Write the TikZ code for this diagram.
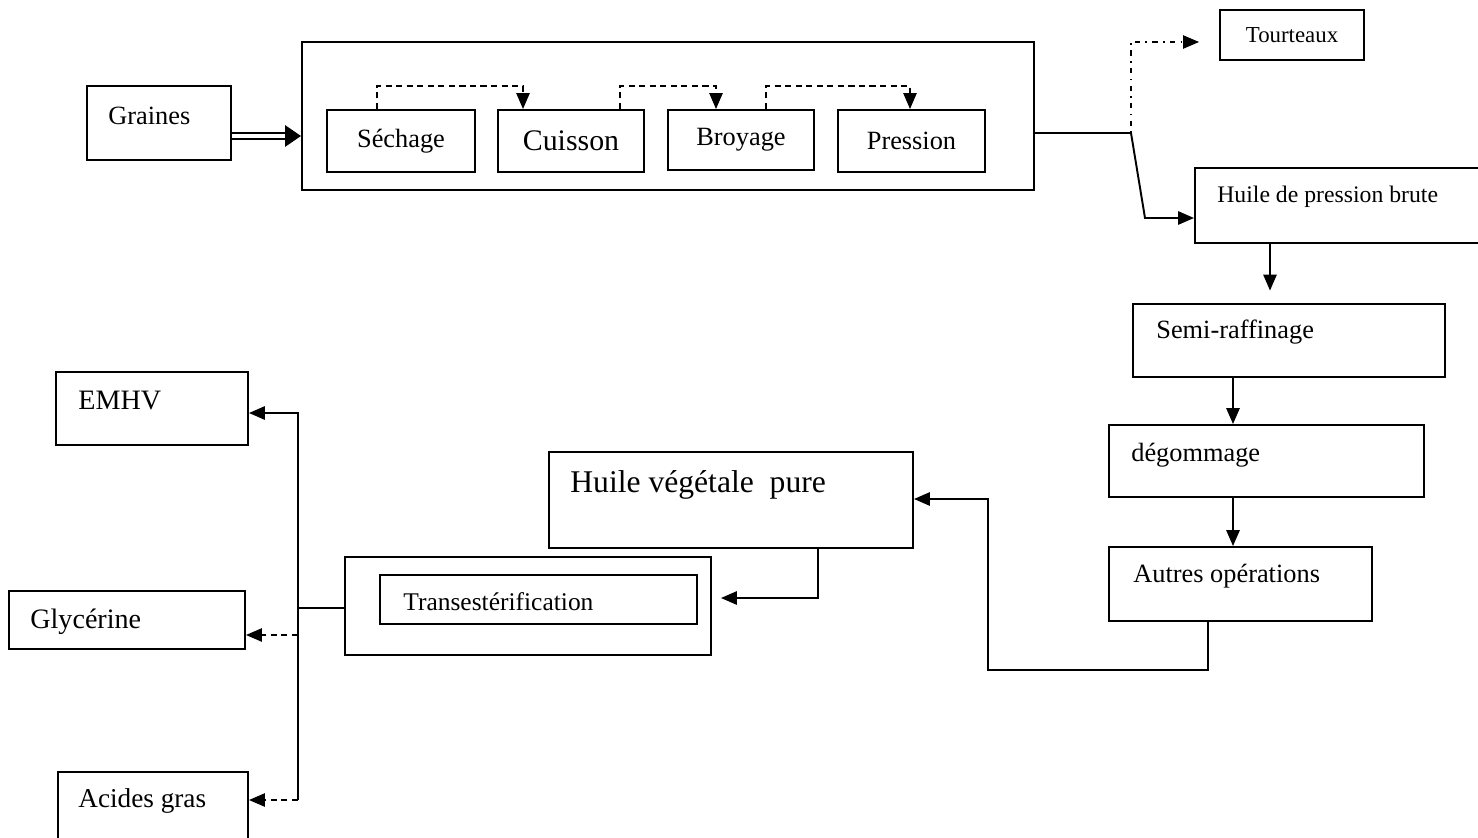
\documentclass[tikz,border=0pt]{standalone}
\usepackage{fontspec}
\setmainfont{Liberation Serif}
\usetikzlibrary{arrows.meta}
\newcommand\fs[1]{\fontsize{#1}{#1}\selectfont}
\begin{document}
\begin{tikzpicture}[x=0.02cm,y=-0.02cm,
  box/.style={draw,line width=1.1pt,inner sep=0pt},
  txt/.style={inner sep=0pt,anchor=west},
  tip/.style={-{Triangle[length=9pt,width=7.5pt]}},
  arr/.style={line width=1.1pt,tip},
  thin/.style={line width=0.8pt},
  dsh/.style={line width=0.9pt,dash pattern=on 3.5pt off 2.5pt,tip},
  dd/.style={line width=0.8pt,dash pattern=on 1pt off 3pt on 3pt off 3pt,tip},
  dbl/.style={line width=1.1pt,double distance=2.2pt,-{Triangle[length=9pt,width=12pt]}}]
\clip (0,0) rectangle (1478,838);
\fill[white] (0,0) rectangle (1478,838);
% boxes
\node[box,minimum width=144*0.02cm,minimum height=74*0.02cm] (graines) at (159,123) {};
\node[txt,font=\fs{15}] (graines-t) at (108,116) {Graines};
\node[box,minimum width=732*0.02cm,minimum height=148*0.02cm] (big) at (668,116) {};
\node[box,minimum width=148*0.02cm,minimum height=62*0.02cm,font=\fs{15}] (sech) at (401,141) {Séchage};
\node[box,minimum width=146*0.02cm,minimum height=62*0.02cm,font=\fs{17}] (cuis) at (571,141) {Cuisson};
\node[box,minimum width=146*0.02cm,minimum height=60*0.02cm,font=\fs{15}] (broy) at (741,140) {Broyage};
\node[box,minimum width=147*0.02cm,minimum height=62*0.02cm,font=\fs{15}] (press) at (911.5,141) {Pression};
\node[box,minimum width=144*0.02cm,minimum height=50*0.02cm,font=\fs{13}] (tourt) at (1292,35) {Tourteaux};
\node[box,minimum width=290*0.02cm,minimum height=75*0.02cm] (hpb) at (1340,205.5) {};
\node[txt,font=\fs{13.5}] (hpb-t) at (1217,197) {Huile de pression brute};
\node[box,minimum width=312*0.02cm,minimum height=73*0.02cm] (semi) at (1289,340.5) {};
\node[txt,font=\fs{15}] (semi-t) at (1156,332) {Semi-raffinage};
\node[box,minimum width=315*0.02cm,minimum height=72*0.02cm] (degom) at (1266.5,461) {};
\node[txt,font=\fs{15}] (degom-t) at (1131,455) {dégommage};
\node[box,minimum width=263*0.02cm,minimum height=74*0.02cm] (autres) at (1240.5,584) {};
\node[txt,font=\fs{15}] (autres-t) at (1133,576) {Autres opérations};
\node[box,minimum width=364*0.02cm,minimum height=96*0.02cm] (hvp) at (731,500) {};
\node[txt,font=\fs{18}] (hvp-t) at (570,485) {Huile végétale\ \ pure};
\node[box,minimum width=366*0.02cm,minimum height=98*0.02cm] (transo) at (528,606) {};
\node[box,minimum width=317*0.02cm,minimum height=49*0.02cm] (transi) at (538.5,599.5) {};
\node[txt,font=\fs{14.5}] (transi-t) at (403,602) {Transestérification};
\node[box,minimum width=192*0.02cm,minimum height=73*0.02cm] (emhv) at (152,408.5) {};
\node[txt,font=\fs{16}] (emhv-t) at (78,401) {EMHV};
\node[box,minimum width=236*0.02cm,minimum height=58*0.02cm] (glyc) at (127,620) {};
\node[txt,font=\fs{16}] (glyc-t) at (30,622) {Glycérine};
\node[box,minimum width=190*0.02cm,minimum height=80*0.02cm] (acides) at (153,812) {};
\node[txt,font=\fs{15.5}] (acides-t) at (78,801) {Acides gras};
% connectors
\draw[dbl] (graines.east |- 0,136) -- (big.west |- 0,136);
\draw[dsh] (sech.north -| 377,0) |- (523,86) -- (cuis.north -| 523,0);
\draw[dsh] (cuis.north -| 620,0) |- (716,86) -- (broy.north -| 716,0);
\draw[dsh] (broy.north -| 766,0) |- (910,86) -- (press.north -| 910,0);
\coordinate (split) at (1131,133);
\draw[arr] (big.east |- 0,133) -- (split) -- (1145,218) -- (hpb.west |- 0,218);
\draw[dd,shorten >=0.4cm] (split) |- (tourt.west |- 0,42);
\draw[arr,shorten >=0.25cm] (hpb.south -| 1270,0) -- (semi.north -| 1270,0);
\draw[arr] (semi.south -| 1233,0) -- (degom.north -| 1233,0);
\draw[arr] (degom.south -| 1233,0) -- (autres.north -| 1233,0);
\draw[arr] (autres.south -| 1208,0) -- (1208,670) -| (988,499) -- (hvp.east |- 0,499);
\draw[arr,shorten >=0.18cm] (hvp.south -| 818,0) |- (transo.east |- 0,598);
\coordinate (bus) at (298,608);
\draw[thin] (transo.west |- 0,608) -- (bus);
\draw[arr] (bus) |- (emhv.east |- 0,413);
\draw[line width=1.1pt] (bus) -- (298,800);
\draw[dsh] (298,635) -- (glyc.east |- 0,635);
\draw[dsh] (298,800) -- (acides.east |- 0,800);
\end{tikzpicture}
\end{document}
